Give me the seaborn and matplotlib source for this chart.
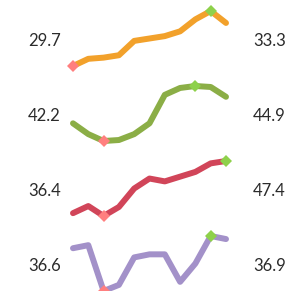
import matplotlib
matplotlib.use("Agg")
import matplotlib.pyplot as plt
import seaborn as sns
import pandas as pd
import numpy as np

# sparkline data, 11 points each
orange = [29.7, 30.3, 30.4, 30.6, 31.8, 32.0, 32.2, 32.6, 33.6, 34.3, 33.3]
green = [42.2, 41.1, 40.4, 40.5, 41.1, 42.2, 45.1, 45.8, 46.0, 45.9, 44.9]
red = [36.4, 37.9, 35.8, 37.7, 41.6, 43.7, 43.1, 44.1, 45.1, 46.9, 47.4]
purple = [36.6, 36.7, 35.2, 35.4, 36.3, 36.4, 36.4, 35.5, 36.1, 37.0, 36.9]

series = [orange, green, red, purple]
line_colors = ["#F2A12B", "#8BAE46", "#D14559", "#A391C9"]
min_color = "#FF7F7F"
max_color = "#8ED14B"

sns.set_style("white")
plt.rcParams['font.family'] = ['Lato', 'DejaVu Sans']

W, H = 286, 291
fig = plt.figure(figsize=(W / 100, H / 100), dpi=100)

x0, x1 = 73, 226
for i, (vals, col) in enumerate(zip(series, line_colors)):
    top = 11 + 75 * i
    h = 55
    ax = fig.add_axes([x0 / W, 1 - (top + h) / H, (x1 - x0) / W, h / H])
    df = pd.DataFrame({"x": np.arange(len(vals)), "y": vals})
    sns.lineplot(data=df, x="x", y="y", ax=ax, color=col, linewidth=4.3,
                 solid_capstyle="round", solid_joinstyle="round", clip_on=False)
    imin = int(np.argmin(vals))
    imax = int(np.argmax(vals))
    ax.plot(imin, vals[imin], marker="D", color=min_color, markersize=6.5,
            markeredgewidth=0, clip_on=False, zorder=5)
    ax.plot(imax, vals[imax], marker="D", color=max_color, markersize=6.5,
            markeredgewidth=0, clip_on=False, zorder=5)
    ax.set_xlim(0, len(vals) - 1)
    ax.set_ylim(min(vals), max(vals))
    ax.axis("off")
    yc = 1 - (top + h / 2 + 2.5) / H
    fig.text(61 / W, yc, f"{vals[0]:.1f}", ha="right", va="center",
             fontsize=12, color="#2b2b2b")
    fig.text(253 / W, yc, f"{vals[-1]:.1f}", ha="left", va="center",
             fontsize=12, color="#2b2b2b")

fig.savefig("out.png", dpi=100)
